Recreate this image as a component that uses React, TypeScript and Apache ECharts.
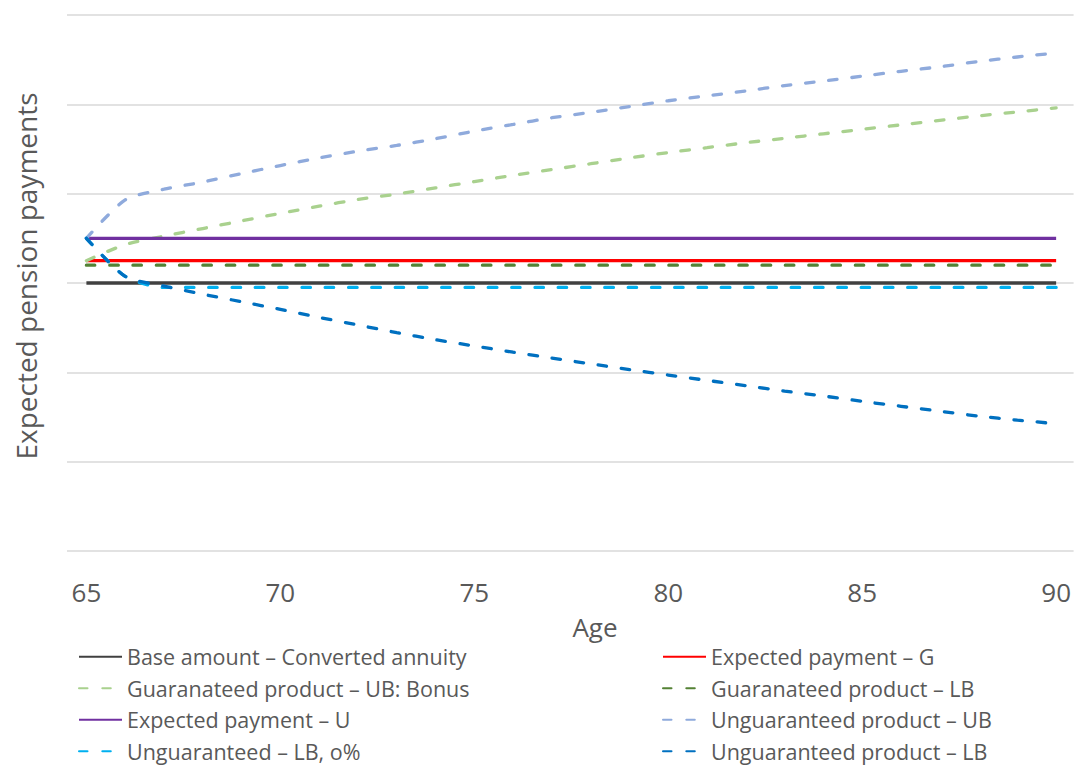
import React, { useEffect, useRef } from "react";
import * as echarts from "echarts";

// Ages on the horizontal axis
const ages = [65, 66, 67, 68, 69, 70, 71, 72, 73, 74, 75, 76, 77, 78, 79, 80, 81, 82, 83, 84, 85, 86, 87, 88, 89, 90];
const ageTicks = [65, 70, 75, 80, 85, 90];

// Payments indexed to the converted annuity (= 100)
const baseAmount = [100, 100, 100, 100, 100, 100, 100, 100, 100, 100, 100, 100, 100, 100, 100, 100, 100, 100, 100, 100, 100, 100, 100, 100, 100, 100];
const expectedG = [105, 105, 105, 105, 105, 105, 105, 105, 105, 105, 105, 105, 105, 105, 105, 105, 105, 105, 105, 105, 105, 105, 105, 105, 105, 105];
const guaranteedUB = [105, 108.6, 110.5, 112.2, 113.9, 115.6, 117.2, 118.7, 119.9, 121.3, 122.7, 124.1, 125.4, 126.7, 128, 129.2, 130.3, 131.4, 132.4, 133.4, 134.4, 135.4, 136.4, 137.4, 138.3, 139.2];
const guaranteedLB = [104, 104, 104, 104, 104, 104, 104, 104, 104, 104, 104, 104, 104, 104, 104, 104, 104, 104, 104, 104, 104, 104, 104, 104, 104, 104];
const expectedU = [110, 110, 110, 110, 110, 110, 110, 110, 110, 110, 110, 110, 110, 110, 110, 110, 110, 110, 110, 110, 110, 110, 110, 110, 110, 110];
const unguaranteedUB = [110, 118.6, 121, 122.6, 124.5, 126.3, 128, 129.5, 130.8, 132.3, 134, 135.5, 137, 138.2, 139.5, 140.8, 141.9, 143, 144.2, 145.2, 146.3, 147.4, 148.4, 149.6, 150.6, 151.5];
const unguaranteedLB0 = [110, 101.5, 99, 99, 99, 99, 99, 99, 99, 99, 99, 99, 99, 99, 99, 99, 99, 99, 99, 99, 99, 99, 99, 99, 99, 99];
const unguaranteedLB = [110, 101.5, 99.3, 97.5, 95.8, 94.1, 92.3, 90.6, 88.9, 87.3, 85.9, 84.5, 83.2, 81.9, 80.6, 79.4, 78.2, 77, 75.8, 74.7, 73.5, 72.4, 71.3, 70.2, 69.3, 68.5];

const seriesDefs = [
  { name: "Base amount – Converted annuity", values: baseAmount, color: "#404040", dashed: false },
  { name: "Expected payment – G", values: expectedG, color: "#FF0000", dashed: false },
  { name: "Guaranateed product – UB: Bonus", values: guaranteedUB, color: "#A9D18E", dashed: true },
  { name: "Guaranateed product – LB", values: guaranteedLB, color: "#548235", dashed: true },
  { name: "Expected payment – U", values: expectedU, color: "#7030A0", dashed: false },
  { name: "Unguaranteed product – UB", values: unguaranteedUB, color: "#8FAADC", dashed: true },
  { name: "Unguaranteed – LB, o%", values: unguaranteedLB0, color: "#00B0F0", dashed: true },
  { name: "Unguaranteed product – LB", values: unguaranteedLB, color: "#0070C0", dashed: true },
];

const FONT = "'Open Sans', sans-serif";
const TEXT_COLOR = "#595959";

export default function App() {
  const ref = useRef<HTMLDivElement>(null);

  useEffect(() => {
    if (!ref.current) return;
    const chart = echarts.init(ref.current, undefined, { renderer: "svg" });

    const legendCommon = {
      orient: "vertical" as const,
      top: 645,
      height: 124,
      padding: 0,
      itemWidth: 43,
      itemHeight: 14,
      itemGap: 8,
      itemStyle: { opacity: 0 },
      textStyle: { color: TEXT_COLOR, fontFamily: FONT, fontSize: 21.5, lineHeight: 23.5 },
    };

    chart.setOption({
      animation: false,
      backgroundColor: "#ffffff",
      grid: { left: 67, right: 0, top: 15, bottom: 216, containLabel: false },
      xAxis: {
        type: "value",
        min: 64.5,
        max: 90.45,
        axisLine: { show: false },
        axisTick: { show: false },
        splitLine: { show: false },
        axisLabel: {
          customValues: ageTicks,
          color: TEXT_COLOR,
          fontFamily: FONT,
          fontSize: 26,
          margin: 28,
        },
      },
      yAxis: {
        type: "value",
        min: 40,
        max: 160,
        interval: 20,
        axisLine: { show: false },
        axisTick: { show: false },
        axisLabel: { show: false },
        splitLine: { lineStyle: { color: "#D9D9D9", width: 1.5 } },
      },
      legend: [
        { ...legendCommon, left: 78, data: [seriesDefs[0].name, seriesDefs[2].name, seriesDefs[4].name, seriesDefs[6].name] },
        { ...legendCommon, left: 662, data: [seriesDefs[1].name, seriesDefs[3].name, seriesDefs[5].name, seriesDefs[7].name] },
      ],
      graphic: [
        {
          type: "text",
          x: 595,
          y: 627,
          style: { text: "Age", fill: TEXT_COLOR, font: `26px ${FONT}`, textAlign: "center", textVerticalAlign: "middle" },
        },
        {
          type: "text",
          x: 26,
          y: 276,
          rotation: Math.PI / 2,
          style: {
            text: "Expected pension payments",
            fill: TEXT_COLOR,
            font: `28px ${FONT}`,
            textAlign: "center",
            textVerticalAlign: "middle",
          },
        },
      ],
      series: seriesDefs.map((s) => ({
        name: s.name,
        type: "line",
        data: ages.map((a, i) => [a, s.values[i]]),
        smooth: 0.25,
        showSymbol: false,
        symbol: "none",
        color: s.color,
        lineStyle: {
          color: s.color,
          width: 3.3,
          type: s.dashed ? [8.5, 14.8] : "solid",
          cap: s.dashed ? "round" : "butt",
        },
        emphasis: { disabled: true },
      })),
    });

    return () => chart.dispose();
  }, []);

  return (
    <div
      ref={ref}
      style={{ position: "fixed", left: 0, top: 0, width: 1074, height: 767, background: "#fff" }}
    />
  );
}
